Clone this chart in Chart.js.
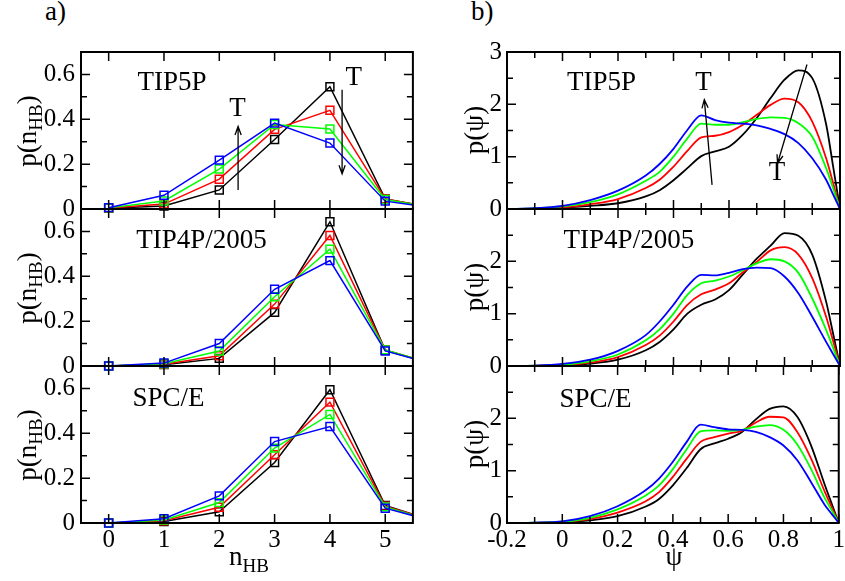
<!DOCTYPE html>
<html>
<head>
<meta charset="utf-8">
<script src="https://cdn.jsdelivr.net/npm/chart.js@4.4.1/dist/chart.umd.min.js"></script>
<style>
  body { margin: 0; background: #fff; }
  #wrap { position: relative; width: 845px; height: 581px; overflow: hidden;
          font-family: "Liberation Serif", "Times New Roman", serif; color: #000; }
  canvas { position: absolute; }
  .lbl { position: absolute; font-size: 27px; line-height: 27px; white-space: nowrap; }
  .lbl sub { font-size: 19px; vertical-align: -0.35em; line-height: 0; }
  .ytitle { transform: translate(-50%, -50%) rotate(-90deg); }
  .xtitle { transform: translateX(-50%); }
</style>
</head>
<body>
<div id="wrap">
  <canvas id="nTop"></canvas>
  <canvas id="nMid"></canvas>
  <canvas id="nBot"></canvas>
  <canvas id="psiTop"></canvas>
  <canvas id="psiMid"></canvas>
  <canvas id="psiBot"></canvas>

  <div class="lbl" style="left:45px; top:-2px;">a)</div>
  <div class="lbl" style="left:471px; top:-2px;">b)</div>

  <div class="lbl ytitle" style="left:27px; top:131px;">p(n<sub>HB</sub>)</div>
  <div class="lbl ytitle" style="left:27px; top:288px;">p(n<sub>HB</sub>)</div>
  <div class="lbl ytitle" style="left:27px; top:445px;">p(n<sub>HB</sub>)</div>
  <div class="lbl ytitle" style="left:474px; top:130px;">p(ψ)</div>
  <div class="lbl ytitle" style="left:474px; top:287px;">p(ψ)</div>
  <div class="lbl ytitle" style="left:474px; top:444px;">p(ψ)</div>

  <div class="lbl xtitle" style="left:249px; top:543px;">n<sub>HB</sub></div>
  <div class="lbl xtitle" style="left:674px; top:543px;">ψ</div>
</div>
<script>
// ---- panel a): distribution of the number of H-bonds ----
const nHB = [0, 1, 2, 3, 4, 5, 6];
const nTicks = [0, 1, 2, 3, 4, 5];
const nLabels = [0, 1, 2, 3, 4, 5];
const pnTicks = [0, 0.1, 0.2, 0.3, 0.4, 0.5, 0.6, 0.7];
const pnLabels = [0, 0.2, 0.4, 0.6];

const tip5pNBlack = [0.003, 0.013, 0.085, 0.31, 0.545, 0.045, 0.0];
const tip5pNRed   = [0.004, 0.022, 0.133, 0.355, 0.44, 0.045, 0.0];
const tip5pNGreen = [0.005, 0.036, 0.178, 0.377, 0.357, 0.042, 0.0];
const tip5pNBlue  = [0.006, 0.061, 0.218, 0.383, 0.294, 0.035, 0.0];

const tip4pNBlack = [0.0, 0.006, 0.034, 0.239, 0.643, 0.07, 0.0];
const tip4pNRed   = [0.0, 0.008, 0.046, 0.276, 0.582, 0.072, 0.0];
const tip4pNGreen = [0.0, 0.01, 0.067, 0.309, 0.521, 0.072, 0.0];
const tip4pNBlue  = [0.0, 0.013, 0.1, 0.342, 0.47, 0.067, 0.0];

const spceNBlack = [0.0, 0.007, 0.05, 0.27, 0.594, 0.078, 0.0];
const spceNRed   = [0.0, 0.01, 0.07, 0.304, 0.539, 0.075, 0.0];
const spceNGreen = [0.0, 0.013, 0.091, 0.334, 0.484, 0.072, 0.0];
const spceNBlue  = [0.0, 0.019, 0.121, 0.363, 0.43, 0.066, 0.0];

// ---- panel b): tetrahedral order parameter ----
const psi = [-0.2, -0.1, 0, 0.1, 0.2, 0.3, 0.35, 0.4, 0.45, 0.5, 0.55, 0.6, 0.65, 0.7, 0.75, 0.8, 0.85, 0.9, 0.95, 0.975, 1.0];
const psiTicks = [-0.2, -0.1, 0, 0.1, 0.2, 0.3, 0.4, 0.5, 0.6, 0.7, 0.8, 0.9, 1.0];
const psiLabels = [-0.2, 0, 0.2, 0.4, 0.6, 0.8, 1.0];
const ppTicks = [0, 0.5, 1, 1.5, 2, 2.5, 3];
const ppLabelsTop = [0, 1, 2, 3];
const ppLabels = [0, 1, 2];

const tip5pPBlack = [0, 0.005, 0.025, 0.06, 0.11, 0.24, 0.36, 0.55, 0.78, 1.01, 1.10, 1.19, 1.42, 1.74, 2.12, 2.47, 2.65, 2.50, 1.62, 0.82, 0];
const tip5pPRed   = [0, 0.008, 0.03, 0.09, 0.19, 0.40, 0.56, 0.81, 1.11, 1.37, 1.40, 1.47, 1.61, 1.80, 1.99, 2.11, 2.04, 1.67, 0.97, 0.50, 0];
const tip5pPGreen = [0, 0.012, 0.05, 0.13, 0.28, 0.54, 0.71, 1.00, 1.35, 1.63, 1.61, 1.61, 1.66, 1.72, 1.75, 1.74, 1.64, 1.38, 0.78, 0.40, 0];
const tip5pPBlue  = [0, 0.015, 0.06, 0.17, 0.35, 0.64, 0.86, 1.15, 1.51, 1.79, 1.70, 1.65, 1.63, 1.60, 1.53, 1.43, 1.26, 0.97, 0.56, 0.28, 0];

const tip4pPBlack = [0, 0.003, 0.013, 0.045, 0.12, 0.30, 0.46, 0.70, 1.00, 1.17, 1.27, 1.45, 1.75, 2.05, 2.30, 2.54, 2.49, 2.13, 1.23, 0.62, 0];
const tip4pPRed   = [0, 0.004, 0.02, 0.064, 0.17, 0.40, 0.58, 0.85, 1.17, 1.37, 1.46, 1.58, 1.79, 1.99, 2.21, 2.27, 2.13, 1.68, 0.94, 0.48, 0];
const tip4pPGreen = [0, 0.006, 0.026, 0.09, 0.22, 0.49, 0.70, 1.00, 1.36, 1.58, 1.63, 1.71, 1.83, 1.96, 2.04, 2.00, 1.78, 1.29, 0.69, 0.35, 0];
const tip4pPBlue  = [0, 0.008, 0.04, 0.12, 0.29, 0.59, 0.85, 1.17, 1.52, 1.74, 1.73, 1.78, 1.85, 1.88, 1.87, 1.71, 1.39, 0.94, 0.46, 0.23, 0];

const spcePBlack = [0, 0.003, 0.013, 0.05, 0.13, 0.31, 0.46, 0.72, 1.05, 1.41, 1.52, 1.61, 1.74, 1.98, 2.18, 2.23, 2.03, 1.48, 0.72, 0.36, 0];
const spcePRed   = [0, 0.004, 0.02, 0.076, 0.20, 0.41, 0.59, 0.88, 1.23, 1.55, 1.64, 1.71, 1.76, 1.92, 2.03, 2.02, 1.74, 1.23, 0.59, 0.30, 0];
const spcePGreen = [0, 0.006, 0.025, 0.10, 0.26, 0.52, 0.72, 1.03, 1.41, 1.75, 1.77, 1.76, 1.78, 1.84, 1.87, 1.78, 1.50, 1.03, 0.47, 0.24, 0];
const spcePBlue  = [0, 0.008, 0.03, 0.13, 0.32, 0.62, 0.85, 1.17, 1.55, 1.88, 1.83, 1.79, 1.78, 1.74, 1.64, 1.48, 1.20, 0.78, 0.34, 0.17, 0];

const BLACK = '#000000', RED = '#ff0000', GREEN = '#00ff00', BLUE = '#0000ff';
const FONT = '"Liberation Serif", "Times New Roman", serif';

const has = (arr, v) => arr.some(a => Math.abs(a - v) < 1e-9);
const fmt = v => String(Math.round(v * 10) / 10);

// inward ticks on all four sides, frame, and the in-plot annotations
const framePlugin = {
  id: 'frame',
  afterDatasetsDraw(chart, args, opts) {
    const { ctx, chartArea: a, scales: { x, y } } = chart;
    ctx.save();
    ctx.strokeStyle = '#000';
    ctx.lineWidth = 1.5;
    ctx.beginPath();
    x.ticks.forEach(t => {
      const px = x.getPixelForValue(t.value);
      const len = has(opts.xMajor, t.value) ? 9 : 6;
      ctx.moveTo(px, a.top); ctx.lineTo(px, a.top + len);
      ctx.moveTo(px, a.bottom); ctx.lineTo(px, a.bottom - len);
    });
    y.ticks.forEach(t => {
      const py = y.getPixelForValue(t.value);
      const len = has(opts.yMajor, t.value) ? 9 : 6;
      ctx.moveTo(a.left, py); ctx.lineTo(a.left + len, py);
      ctx.moveTo(a.right, py); ctx.lineTo(a.right - len, py);
    });
    ctx.stroke();
    ctx.lineWidth = 2;
    ctx.strokeRect(a.left, a.top, a.width, a.height);

    // arrows
    ctx.lineWidth = 1.3;
    (opts.arrows || []).forEach(ar => {
      const x1 = x.getPixelForValue(ar.x1), y1 = y.getPixelForValue(ar.y1);
      const x2 = x.getPixelForValue(ar.x2), y2 = y.getPixelForValue(ar.y2);
      const ang = Math.atan2(y2 - y1, x2 - x1);
      ctx.beginPath();
      ctx.moveTo(x1, y1); ctx.lineTo(x2, y2);
      ctx.moveTo(x2 - 9 * Math.cos(ang - 0.35), y2 - 9 * Math.sin(ang - 0.35));
      ctx.lineTo(x2, y2);
      ctx.lineTo(x2 - 9 * Math.cos(ang + 0.35), y2 - 9 * Math.sin(ang + 0.35));
      ctx.stroke();
    });

    // texts
    ctx.fillStyle = '#000';
    ctx.font = '27px ' + FONT;
    ctx.textBaseline = 'alphabetic';
    (opts.texts || []).forEach(t => {
      ctx.textAlign = t.align || 'left';
      ctx.fillText(t.text, x.getPixelForValue(t.x), y.getPixelForValue(t.y));
    });
    ctx.restore();
  }
};

function nSet(values, color, order) {
  return {
    data: values.map((v, i) => ({ x: nHB[i], y: v })),
    borderColor: color, borderWidth: 1.5, tension: 0,
    pointStyle: 'rect', pointRadius: 5.6, pointBorderWidth: 1.5,
    pointBorderColor: color, pointBackgroundColor: 'rgba(0,0,0,0)',
    clip: { left: 8, right: 0, top: 8, bottom: 8 },
    order
  };
}

function psiSet(values, color, order) {
  return {
    data: values.map((v, i) => ({ x: psi[i], y: v })),
    borderColor: color, borderWidth: 1.8, pointRadius: 0,
    cubicInterpolationMode: 'monotone',
    clip: { left: 2, right: 2, top: 2, bottom: 2 },
    order
  };
}

const PAD = 24;

function makePanel(id, p) {
  const cv = document.getElementById(id);
  cv.width = p.w; cv.height = p.h;
  cv.style.left = p.left + 'px';
  cv.style.top = p.top + 'px';
  const tickFont = { family: FONT, size: 25 };
  new Chart(cv, {
    type: 'line',
    data: { datasets: p.datasets },
    options: {
      responsive: false,
      animation: false,
      events: [],
      layout: { padding: p.padding },
      plugins: {
        legend: { display: false },
        tooltip: { enabled: false },
        frame: { xMajor: p.xLabels, yMajor: p.yMajor, texts: p.texts, arrows: p.arrows }
      },
      scales: {
        x: {
          type: 'linear', min: p.xMin, max: p.xMax,
          afterBuildTicks: s => { s.ticks = p.xTicks.map(value => ({ value })); },
          afterFit: s => { s.height = p.xHeight; },
          grid: { display: false, drawTicks: false },
          border: { display: false },
          ticks: {
            display: p.showX, autoSkip: false, maxRotation: 0, minRotation: 0,
            padding: 2, color: '#000', font: tickFont,
            callback: v => has(p.xLabels, v) ? fmt(v) : ''
          }
        },
        y: {
          type: 'linear', min: p.yMin, max: p.yMax,
          afterBuildTicks: s => { s.ticks = p.yTicks.map(value => ({ value })); },
          afterFit: s => { s.width = p.yWidth; },
          grid: { display: false, drawTicks: false },
          border: { display: false },
          ticks: {
            autoSkip: false, padding: p.yPad, color: '#000', font: tickFont,
            callback: v => has(p.yLabels, v) ? fmt(v) : ''
          }
        }
      }
    },
    plugins: [framePlugin]
  });
}

const rows = [52, 209, 366, 523];

function nPanel(id, row, sets, texts, arrows) {
  const bottom = row === 2;
  makePanel(id, {
    left: 0, w: 420,
    top: rows[row] - PAD,
    h: (rows[row + 1] - rows[row]) + PAD + (bottom ? 40 : PAD),
    padding: { left: 0, right: 4, top: PAD, bottom: bottom ? 0 : PAD },
    xHeight: bottom ? 40 : 0, showX: bottom,
    yWidth: 81, yPad: 6,
    xMin: -0.5, xMax: 5.5, xTicks: nTicks, xLabels: nLabels,
    yMin: 0, yMax: 0.7, yTicks: pnTicks, yLabels: pnLabels, yMajor: pnLabels,
    datasets: [nSet(sets[0], BLACK, 3), nSet(sets[1], RED, 2), nSet(sets[2], GREEN, 1), nSet(sets[3], BLUE, 0)],
    texts, arrows
  });
}

function psiPanel(id, row, sets, texts, arrows) {
  const bottom = row === 2;
  makePanel(id, {
    left: 420, w: 427,
    top: rows[row] - PAD,
    h: (rows[row + 1] - rows[row]) + PAD + (bottom ? 40 : PAD),
    padding: { left: 0, right: 7, top: PAD, bottom: bottom ? 0 : PAD },
    xHeight: bottom ? 40 : 0, showX: bottom,
    yWidth: 87, yPad: 5,
    xMin: -0.2, xMax: 1.0, xTicks: psiTicks, xLabels: psiLabels,
    yMin: 0, yMax: 3, yTicks: ppTicks, yLabels: row === 0 ? ppLabelsTop : ppLabels, yMajor: ppLabelsTop,
    datasets: [psiSet(sets[0], BLACK, 3), psiSet(sets[1], RED, 2), psiSet(sets[2], GREEN, 1), psiSet(sets[3], BLUE, 0)],
    texts, arrows
  });
}

nPanel('nTop', 0, [tip5pNBlack, tip5pNRed, tip5pNGreen, tip5pNBlue],
  [{ text: 'TIP5P', x: 0.52, y: 0.53 },
   { text: 'T', x: 2.33, y: 0.413, align: 'center' },
   { text: 'T', x: 4.43, y: 0.555, align: 'center' }],
  [{ x1: 2.34, y1: 0.085, x2: 2.34, y2: 0.368 },
   { x1: 4.22, y1: 0.532, x2: 4.22, y2: 0.157 }]);
nPanel('nMid', 1, [tip4pNBlack, tip4pNRed, tip4pNGreen, tip4pNBlue],
  [{ text: 'TIP4P/2005', x: 0.5, y: 0.525 }], []);
nPanel('nBot', 2, [spceNBlack, spceNRed, spceNGreen, spceNBlue],
  [{ text: 'SPC/E', x: 0.43, y: 0.52 }], []);

psiPanel('psiTop', 0, [tip5pPBlack, tip5pPRed, tip5pPGreen, tip5pPBlue],
  [{ text: 'TIP5P', x: 0.016, y: 2.28 },
   { text: 'T', x: 0.508, y: 2.27, align: 'center' },
   { text: 'T', x: 0.773, y: 0.556, align: 'center' }],
  [{ x1: 0.539, y1: 0.46, x2: 0.511, y2: 2.09 },
   { x1: 0.881, y1: 2.76, x2: 0.775, y2: 0.875 }]);
psiPanel('psiMid', 1, [tip4pPBlack, tip4pPRed, tip4pPGreen, tip4pPBlue],
  [{ text: 'TIP4P/2005', x: 0.004, y: 2.26 }], []);
psiPanel('psiBot', 2, [spcePBlack, spcePRed, spcePGreen, spcePBlue],
  [{ text: 'SPC/E', x: -0.01, y: 2.22 }], []);
</script>
</body>
</html>
